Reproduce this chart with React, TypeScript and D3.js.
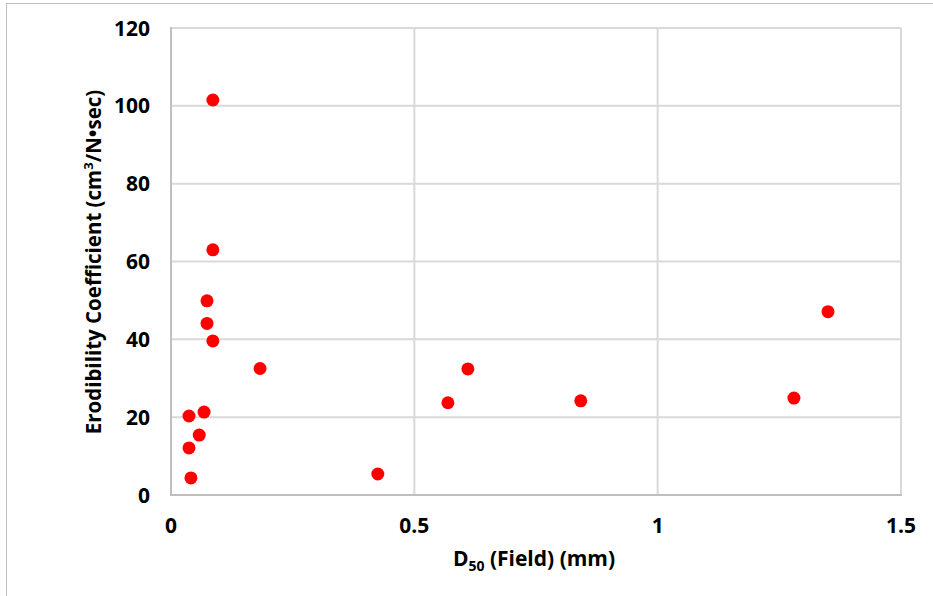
import React from 'react';
import * as d3 from 'd3';

// D50 (Field) in mm, erodibility coefficient in cm3/N-sec
const d50 = [0.086, 0.086, 0.074, 0.074, 0.086, 0.183, 0.068, 0.037, 0.058, 0.037, 0.041, 0.425, 0.610, 0.569, 0.842, 1.28, 1.35];
const erodibility = [101.5, 63.0, 49.9, 44.1, 39.6, 32.5, 21.3, 20.3, 15.4, 12.1, 4.4, 5.4, 32.4, 23.7, 24.2, 24.9, 47.1];

const xTicks = [0, 0.5, 1, 1.5];
const yTicks = [0, 20, 40, 60, 80, 100, 120];

const width = 933;
const height = 596;
const margin = { top: 28, right: 32, bottom: 101, left: 171 };

const font = "'Open Sans', 'Liberation Sans', sans-serif";

const App = () => {
  const x = d3.scaleLinear().domain([0, 1.5]).range([margin.left, width - margin.right]);
  const y = d3.scaleLinear().domain([0, 120]).range([height - margin.bottom, margin.top]);

  const points = d50.map((d, i) => ({ d, e: erodibility[i] }));

  return (
    <svg width={width} height={height} style={{ position: 'absolute', left: 0, top: 0, background: '#fff' }}>
      {/* outer chart frame, only top and left edges visible */}
      <line x1={6} y1={3.5} x2={width} y2={3.5} stroke="#bfbfbf" strokeWidth={1} />
      <line x1={6.5} y1={3} x2={6.5} y2={height} stroke="#bfbfbf" strokeWidth={1} />

      {/* gridlines */}
      {yTicks.filter(t => t > 0).map(t => (
        <line key={'gy' + t} x1={x(0)} x2={x(1.5)} y1={y(t)} y2={y(t)} stroke="#d9d9d9" strokeWidth={2} />
      ))}
      {xTicks.filter(t => t > 0).map(t => (
        <line key={'gx' + t} x1={x(t)} x2={x(t)} y1={y(0)} y2={y(120)} stroke="#d9d9d9" strokeWidth={2} />
      ))}

      {/* axes */}
      <line x1={x(0)} x2={x(0)} y1={y(0)} y2={y(120) - 1} stroke="#bfbfbf" strokeWidth={2} />
      <line x1={x(0) - 1} x2={x(1.5) + 1} y1={y(0)} y2={y(0)} stroke="#bfbfbf" strokeWidth={2} />

      {/* tick labels */}
      {yTicks.map(t => (
        <text key={'ty' + t} x={x(0) - 21} y={y(t)} dy="0.36em" textAnchor="end"
          style={{ fontFamily: font, fontSize: 21, fontWeight: 'bold', fill: '#000' }}>{t}</text>
      ))}
      {xTicks.map(t => (
        <text key={'tx' + t} x={x(t)} y={533} textAnchor="middle"
          style={{ fontFamily: font, fontSize: 21, fontWeight: 'bold', fill: '#000' }}>{t}</text>
      ))}

      {/* points */}
      {points.map((p, i) => (
        <circle key={i} cx={x(p.d)} cy={y(p.e)} r={6.5} fill="#ff0000" />
      ))}

      {/* axis titles */}
      <text transform={`translate(101,262) rotate(-90)`} textAnchor="middle"
        style={{ fontFamily: font, fontSize: 20.5, fontWeight: 'bold', fill: '#000' }}>
        Erodibility Coefficient (cm<tspan dy={-8} fontSize={13}>3</tspan><tspan dy={8}>/N•sec)</tspan>
      </text>
      <text x={534} y={566} textAnchor="middle"
        style={{ fontFamily: font, fontSize: 21, fontWeight: 'bold', fill: '#000' }}>
        D<tspan dy={5} fontSize={14}>50</tspan><tspan dy={-5}> (Field) (mm)</tspan>
      </text>
    </svg>
  );
};

export default App;
